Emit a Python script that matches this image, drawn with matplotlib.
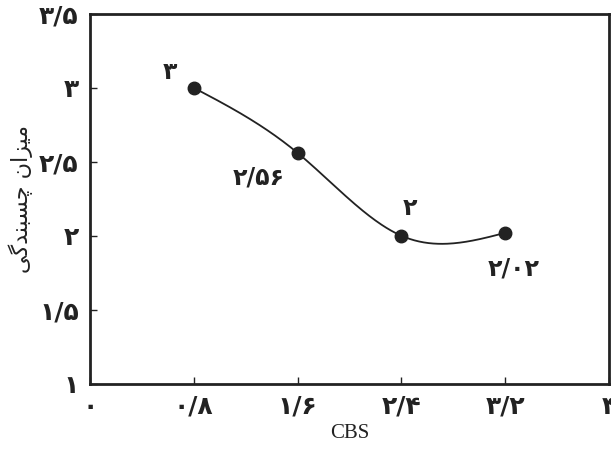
import numpy as np
import matplotlib.pyplot as plt

# data
cbs = [0.8, 1.6, 2.4, 3.2]
adhesion = [3.0, 2.56, 2.0, 2.02]
point_labels = ['۳', '۲/۵۶', '۲', '۲/۰۲']
xticks = [0, 0.8, 1.6, 2.4, 3.2, 4]
xtick_labels = ['۰', '۰/۸', '۱/۶', '۲/۴', '۳/۲', '۴']
yticks = [1, 1.5, 2, 2.5, 3, 3.5]
ytick_labels = ['۱', '۱/۵', '۲', '۲/۵', '۳', '۳/۵']

# "میزان چسبندگی" shaped by hand (presentation forms), reversed for LTR drawing
ylabel_forms = ['\uFEE3', '\uFBFF', '\uFEB0', '\uFE8D', '\uFEE5', ' ',
                '\uFB7C', '\uFEB4', '\uFE92', '\uFEE8', '\uFEAA', '\uFB94', '\uFBFD']
ylabel_text = ''.join(reversed(ylabel_forms))


def natural_spline(x, y, n=200):
    # smooth curve through the points, as in the drawing
    x = np.asarray(x, float)
    y = np.asarray(y, float)
    k = len(x)
    h = np.diff(x)
    A = np.zeros((k, k))
    b = np.zeros(k)
    A[0, 0] = A[-1, -1] = 1
    for i in range(1, k - 1):
        A[i, i - 1] = h[i - 1]
        A[i, i] = 2 * (h[i - 1] + h[i])
        A[i, i + 1] = h[i]
        b[i] = 6 * ((y[i + 1] - y[i]) / h[i] - (y[i] - y[i - 1]) / h[i - 1])
    M = np.linalg.solve(A, b)
    xs = np.linspace(x[0], x[-1], n)
    idx = np.clip(np.searchsorted(x, xs) - 1, 0, k - 2)
    x0, x1 = x[idx], x[idx + 1]
    hh = x1 - x0
    t0, t1 = x1 - xs, xs - x0
    ys = (M[idx] * t0**3 + M[idx + 1] * t1**3) / (6 * hh) \
        + (y[idx] / hh - M[idx] * hh / 6) * t0 + (y[idx + 1] / hh - M[idx + 1] * hh / 6) * t1
    return xs, ys


fig = plt.figure(figsize=(6.11, 4.58), dpi=100)
ax = fig.add_axes([0.147, 0.162, 0.85, 0.808])

xs, ys = natural_spline(cbs, adhesion)
ax.plot(xs, ys, color='#222222', lw=1.3)
ax.plot(cbs, adhesion, 'o', color='#222222', ms=9)

offsets = [(-17, 11), (-28, -18), (6, 20), (6, -26)]
for x, y, lab, off in zip(cbs, adhesion, point_labels, offsets):
    ax.annotate(lab, (x, y), xytext=off, textcoords='offset points',
                fontsize=17, fontweight='bold', ha='center', va='center', color='#222222')

ax.set_xlim(0, 4)
ax.set_ylim(1, 3.5)
ax.set_xticks(xticks)
ax.set_xticklabels(xtick_labels, fontsize=18, fontweight='bold')
ax.set_yticks(yticks)
ax.set_yticklabels(ytick_labels, fontsize=18, fontweight='bold')
ax.tick_params(direction='in', length=5, width=1, color='#222222', pad=8, labelcolor='#222222')
for s in ax.spines.values():
    s.set_linewidth(2)
    s.set_color('#222222')

ax.set_xlabel('CBS', fontsize=15, family='Liberation Serif', color='#222222', labelpad=4)
ax.set_ylabel(ylabel_text, fontsize=16, color='#222222', labelpad=4)

fig.savefig('out.png', dpi=100)
